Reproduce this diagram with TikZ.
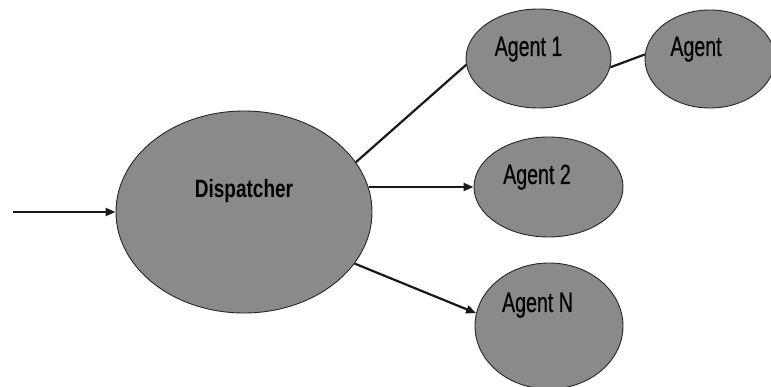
\documentclass[tikz,border=0pt]{standalone}
\usepackage{fontspec}
\setmainfont{Liberation Sans}
\newfontfamily\heavyfont{Liberation Sans}[FakeBold=0.6]
\usetikzlibrary{shapes.geometric,arrows.meta}
\definecolor{bubble}{RGB}{138,138,138}
\tikzset{
  bubble/.style={ellipse, draw=black!85, line width=0.9pt, fill=bubble, inner sep=0pt},
  agentlabel/.style={anchor=base, inner sep=0pt, font=\heavyfont\fontsize{28}{30}\selectfont},
  link/.style={line width=2.2pt, draw=black!90},
  flow/.style={link, -{Triangle[length=10pt,width=8pt]}},
}
\newcommand{\narrow}[2]{\scalebox{#1}[1]{#2}}
\begin{document}
\begin{tikzpicture}[x=1pt,y=-1pt]
  \useasboundingbox (0,0) rectangle (771,387);
  \fill[white] (0,0) rectangle (771,387);

  % ellipses
  \node[bubble, minimum width=256pt, minimum height=202pt] (disp) at (244,212) {};
  \node[bubble, minimum width=145pt, minimum height=99pt]  (a1)   at (538.5,58.5) {};
  \node[bubble, minimum width=130pt, minimum height=98pt]  (ax)   at (710,59) {};
  \node[bubble, minimum width=149pt, minimum height=100pt] (a2)   at (548.5,187) {};
  \node[bubble, minimum width=148pt, minimum height=126pt] (an)   at (549,326) {};

  % labels
  \node[anchor=base, inner sep=0pt, font=\fontsize{25}{27}\selectfont\bfseries] (disp-t) at (244,198) {\narrow{0.76}{Dispatcher}};
  \node[agentlabel] (a1-t) at (528.5,56) {\narrow{0.7}{Agent 1}};
  \node[agentlabel] (ax-t) at (696,56) {\narrow{0.7}{Agent}};
  \node[agentlabel] (a2-t) at (537,184) {\narrow{0.7}{Agent 2}};
  \node[agentlabel] (an-t) at (537.5,312) {\narrow{0.7}{Agent N}};

  % connectors
  \coordinate (src) at (13,212);
  \draw[flow] (src) -- (disp);
  \draw[link] (disp.24) -- (a1.185);
  \draw[flow] (a2.west -| disp.11) -- (a2.west);
  \draw[flow] (disp.-25) -- (an.170);
  \draw[link] (a1.-7) -- (ax.176);
\end{tikzpicture}
\end{document}
